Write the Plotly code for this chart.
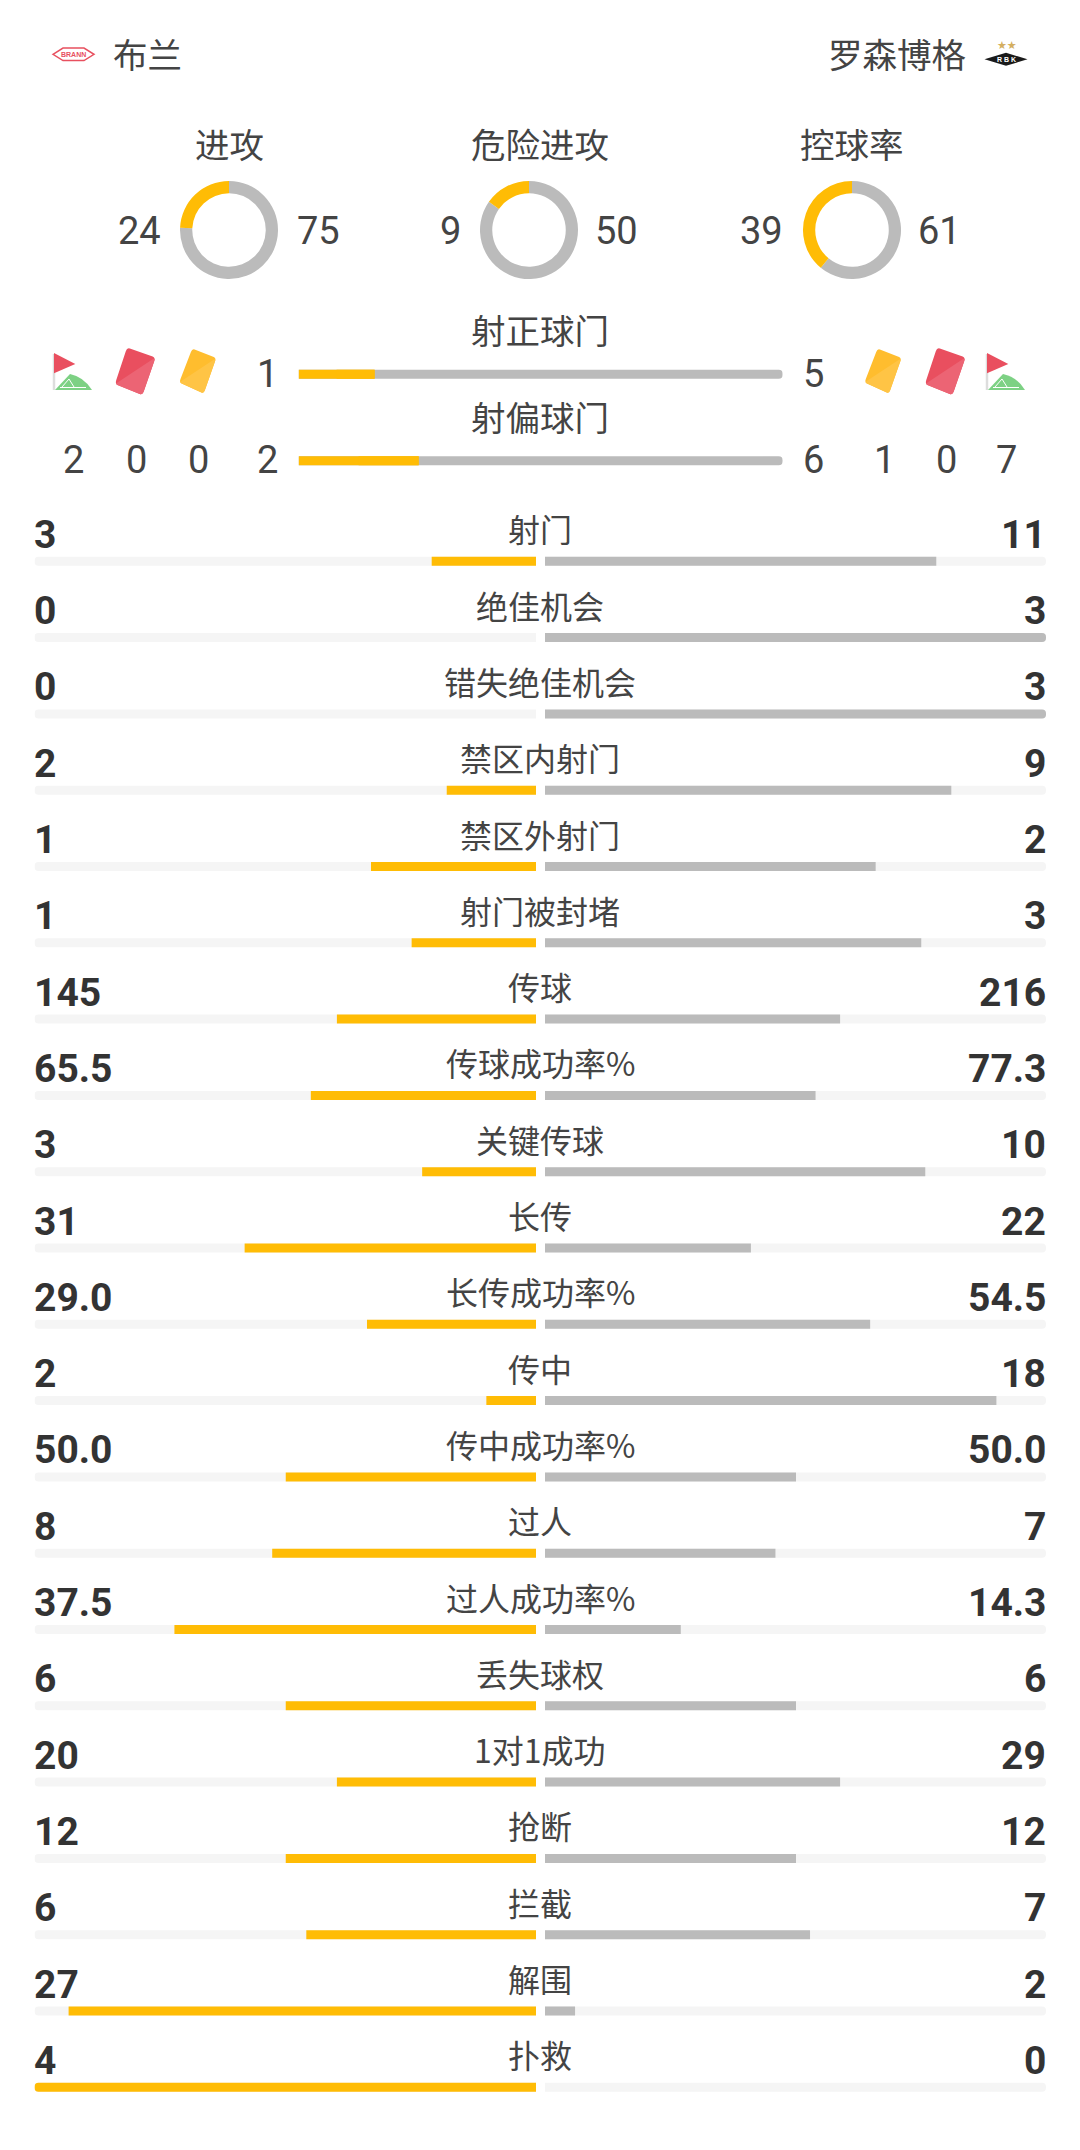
import plotly.graph_objects as go

W, H = 1080, 2150
PAGE = 8  # body margin of the written page
PW, PH = W - 2 * PAGE, H - 2 * PAGE

home_name = "布兰"
away_name = "罗森博格"

donut_titles = ["进攻", "危险进攻", "控球率"]
donut_home = [24, 9, 39]
donut_away = [75, 50, 61]

target_titles = ["射正球门", "射偏球门"]
target_home = [1, 2]
target_away = [5, 6]
target_bar = [0.157, 0.248]

home_corner_cards = [2, 0, 0]
away_corner_cards = [1, 0, 7]

row_labels = ["射门", "绝佳机会", "错失绝佳机会", "禁区内射门", "禁区外射门", "射门被封堵", "传球",
              "传球成功率%", "关键传球", "长传", "长传成功率%", "传中", "传中成功率%", "过人",
              "过人成功率%", "丢失球权", "1对1成功", "抢断", "拦截", "解围", "扑救"]
row_home = [3, 0, 0, 2, 1, 1, 145, 65.5, 3, 31, 29.0, 2, 50.0, 8, 37.5, 6, 20, 12, 6, 27, 4]
row_away = [11, 3, 3, 9, 2, 3, 216, 77.3, 10, 22, 54.5, 18, 50.0, 7, 14.3, 6, 29, 12, 7, 2, 0]

# bar lengths, share of each track
row_bar_home = [0.208, 0, 0, 0.178, 0.329, 0.248, 0.397, 0.449, 0.227, 0.581, 0.337, 0.099, 0.499, 0.526,
                0.721, 0.499, 0.397, 0.499, 0.458, 0.932, 1]
row_bar_away = [0.781, 1, 1, 0.811, 0.66, 0.751, 0.589, 0.54, 0.759, 0.411, 0.649, 0.901, 0.501, 0.46,
                0.271, 0.501, 0.589, 0.501, 0.529, 0.06, 0]

YELLOW = "#FFBC05"
GREY = "#BBBBBB"
TRACK = "#F5F5F5"
DARK = "#333333"
LABEL = "#444444"
CJK = "Noto Sans CJK SC"
NUM = "Roboto"


def px(x):
    return (x - PAGE) / PW


def py(y):
    return 1 - (y - PAGE) / PH


def text(x, y, s, size, color=LABEL, font=CJK, anchor="center", bold=False):
    fig.add_annotation(x=px(x), y=py(y), xref="paper", yref="paper", text=f"<b>{s}</b>" if bold else str(s),
                       showarrow=False, xanchor=anchor, yanchor="middle", borderpad=0,
                       font=dict(family=font, size=size, color=color))


def path(points, close=True):
    d = "M" + " L".join(f"{px(x):.5f},{py(y):.5f}" for x, y in points)
    return d + " Z" if close else d


def rounded(points, r=0.1):
    # polygon with its corners cut by a quadratic curve
    n = len(points)
    d = ""
    for i, (x, y) in enumerate(points):
        x0, y0 = points[i - 1]
        x1, y1 = points[(i + 1) % n]
        a = (x + (x0 - x) * r, y + (y0 - y) * r)
        b = (x + (x1 - x) * r, y + (y1 - y) * r)
        d += ("M" if i == 0 else "L") + f"{px(a[0]):.5f},{py(a[1]):.5f} "
        d += f"Q{px(x):.5f},{py(y):.5f} {px(b[0]):.5f},{py(b[1]):.5f} "
    return d + "Z"


def shape(d, fill=None, line=None, width=1):
    fig.add_shape(type="path", path=d, xref="paper", yref="paper", fillcolor=fill,
                  line=dict(color=line, width=width if line else 0))


def card(dx, color, light):
    pts = [(937 + dx, 347.5), (965.5 + dx, 357.5), (952.5 + dx, 395), (925 + dx, 384)]
    shape(rounded(pts), fill=color)
    shape(rounded([pts[3], pts[1], pts[2]], r=0.08), fill=light)


def yellow_card(dx):
    pts = [(877.5 + dx, 348.5), (901.5 + dx, 358), (889 + dx, 393.5), (864.5 + dx, 382.5)]
    shape(rounded(pts), fill="#FFBD2E")
    shape(rounded([pts[3], pts[1], pts[2]], r=0.08), fill="#FFC445")


def corner_flag(dx):
    shape(path([(54 + dx, 354), (54 + dx, 390)], close=False), line="#DDDDDD", width=2.5)
    shape(path([(54 + dx, 353), (75.3 + dx, 364), (54 + dx, 373.3)]), fill="#E94F5F")
    shape(f"M{px(55 + dx):.5f},{py(390):.5f} L{px(70 + dx):.5f},{py(374):.5f} "
          f"Q{px(84 + dx):.5f},{py(377):.5f} {px(92 + dx):.5f},{py(390):.5f} Z", fill="#7DD184")
    shape(path([(60 + dx, 387.5), (86 + dx, 387.5)], close=False), line="white", width=1)
    shape(path([(62 + dx, 387), (69 + dx, 379), (74 + dx, 387)], close=False), line="white", width=1)


fig = go.Figure()

# stat rows: track behind, read share of the row on top
for color, xa, vals in [(TRACK, "x", [1] * len(row_labels)), (YELLOW, "x", row_bar_home),
                        (TRACK, "x2", [1] * len(row_labels)), (GREY, "x2", row_bar_away)]:
    fig.add_trace(go.Bar(x=vals, y=row_labels, orientation="h", xaxis=xa, yaxis="y", width=9 / 76.3,
                         marker=dict(color=color, line_width=0, cornerradius=4.5), hoverinfo="skip"))

# the two wide bars: only the outer end of the yellow part is rounded
fig.add_trace(go.Bar(x=[1, 1], y=target_titles, orientation="h", xaxis="x3", yaxis="y2", width=9 / 86.4,
                     marker=dict(color=GREY, line_width=0, cornerradius=4.5), hoverinfo="skip"))
fig.add_trace(go.Bar(x=target_bar, y=target_titles, orientation="h", xaxis="x3", yaxis="y2", width=9 / 86.4,
                     marker=dict(color=YELLOW, line_width=0, cornerradius=4.5), hoverinfo="skip"))
fig.add_trace(go.Bar(x=[s / 2 for s in target_bar], base=[s / 2 for s in target_bar], y=target_titles,
                     orientation="h", xaxis="x3", yaxis="y2", width=9 / 86.4,
                     marker=dict(color=YELLOW, line_width=0), hoverinfo="skip"))

# donuts, grey first so the yellow part ends at twelve o'clock
donut_cx = [229, 529, 852]
for cx, h, a in zip(donut_cx, donut_home, donut_away):
    fig.add_trace(go.Pie(values=[a, h], sort=False, direction="clockwise", rotation=0, hole=0.75,
                         textinfo="none", hoverinfo="skip", showlegend=False,
                         marker=dict(colors=[GREY, YELLOW], line_width=0),
                         domain=dict(x=[px(cx - 49), px(cx + 49)], y=[py(230 + 49), py(230 - 49)])))

row_y0, row_step = 561.3, 76.3
top_y0, top_step = 374.3, 86.4
fig.update_layout(
    width=PW, height=PH, autosize=False, margin=dict(l=0, r=0, t=0, b=0),
    paper_bgcolor="white", plot_bgcolor="rgba(0,0,0,0)", barmode="overlay", showlegend=False,
    xaxis=dict(domain=[px(34.5), px(536)], range=[1, 0], visible=False),
    xaxis2=dict(domain=[px(545), px(1046)], range=[0, 1], visible=False),
    xaxis3=dict(domain=[px(298.6), px(782.7)], range=[0, 1], visible=False),
    yaxis=dict(domain=[0, 1], type="category", categoryorder="array", categoryarray=row_labels, visible=False,
               range=[(H - PAGE - row_y0) / row_step, (PAGE - row_y0) / row_step]),
    yaxis2=dict(domain=[0, 1], type="category", categoryorder="array", categoryarray=target_titles, visible=False,
                range=[(H - PAGE - top_y0) / top_step, (PAGE - top_y0) / top_step], overlaying="y"),
)

# header
text(112, 53, home_name, 34.5, anchor="left")
text(967, 53, away_name, 34.5, anchor="right")
shape(path([(53, 54.3), (63, 48), (84, 48), (94, 54.3), (84, 60.6), (63, 60.6)]), fill="white", line="#E8505F", width=1.5)
text(73.5, 54.5, "BRANN", 7, color="#E8505F", font="Liberation Sans", bold=True)
shape(path([(984.5, 59.3), (1006, 52.8), (1027.5, 59.3), (1006, 65.8)]), fill="#1A1A1A")
text(1006, 59.5, "R B K", 7, color="white", font="Liberation Sans", bold=True)
text(1006.5, 46, "★★", 11, color="#D4AF60", font="DejaVu Sans")

# donut titles and numbers
donut_title_x = [229, 540, 852]
home_x = [162, 462, 784]
away_x = [296, 594, 917]
for i in range(3):
    text(donut_title_x[i], 143, donut_titles[i], 34.5)
    text(home_x[i], 230.5, donut_home[i], 38, font=NUM, anchor="right")
    text(away_x[i], 230.5, donut_away[i], 38, font=NUM, anchor="left")

# shots on/off target and the card columns
text(540, 329, target_titles[0], 34.5)
text(540, 416, target_titles[1], 34.5)
text(267.6, 374, target_home[0], 38, font=NUM)
text(813, 374, target_away[0], 38, font=NUM)
text(267.6, 460, target_home[1], 38, font=NUM)
text(813, 460, target_away[1], 38, font=NUM)
for x, v in zip([73, 136, 198], home_corner_cards):
    text(x, 460, v, 38, font=NUM)
for x, v in zip([884, 946, 1006], away_corner_cards):
    text(x, 460, v, 38, font=NUM)

corner_flag(0)
card(-810, "#E94F5F", "#EC6474")
yellow_card(-685.3)
yellow_card(0)
card(0, "#E94F5F", "#EC6474")
corner_flag(933)

# stat row texts
for i, label in enumerate(row_labels):
    y = row_y0 + i * row_step
    h, a = row_home[i], row_away[i]
    if "%" in label:
        h, a = f"{h:.1f}", f"{a:.1f}"
    text(540, y - 33, label, 32)
    text(33, y - 26.5, h, 39, color=DARK, font=NUM, anchor="left", bold=True)
    text(1047, y - 26.5, a, 39, color=DARK, font=NUM, anchor="right", bold=True)

fig.write_html("out.html")
